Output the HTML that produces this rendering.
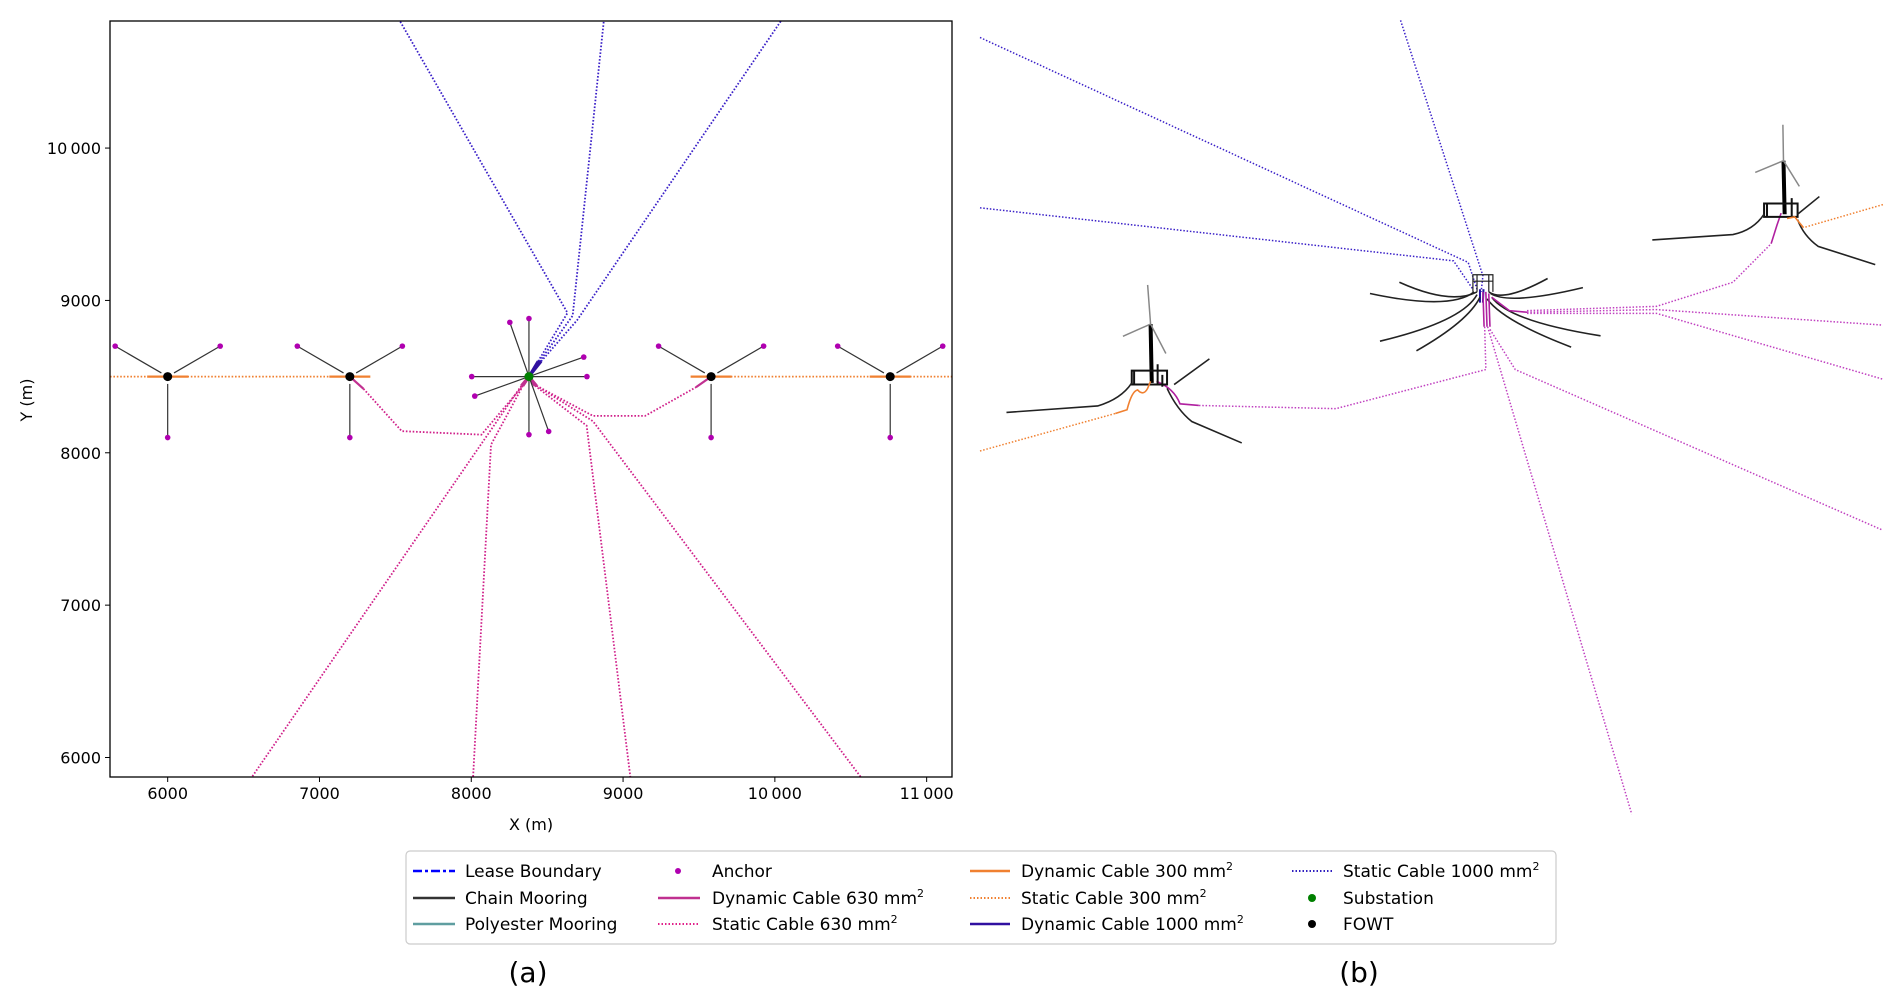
<!DOCTYPE html>
<html><head><meta charset="utf-8"><style>
body{margin:0;background:#fff;width:1892px;height:1004px;overflow:hidden;font-family:"Liberation Sans","DejaVu Sans",sans-serif}
svg{position:absolute;left:0;top:0}
text{font-family:"DejaVu Sans","Liberation Sans",sans-serif}
</style></head><body>
<svg id="s" width="1892" height="1004">
<g id="pa"></g>
<g id="pb" transform="translate(980,0) scale(0.5882,0.5356)"></g>
<g>
<rect x="406" y="851" width="1150" height="93" rx="4" fill="#fff" stroke="#ccc" stroke-width="1.2"/>
<g font-size="17" fill="#000">
<line x1="413" y1="871" x2="455" y2="871" stroke="#0000ff" stroke-width="2.5" stroke-dasharray="9,3,3,3"/><text x="465" y="877">Lease Boundary</text>
<line x1="413" y1="898" x2="455" y2="898" stroke="#333" stroke-width="2.5"/><text x="465" y="904">Chain Mooring</text>
<line x1="413" y1="924" x2="455" y2="924" stroke="#5f9ea0" stroke-width="2.5"/><text x="465" y="930">Polyester Mooring</text>
<circle cx="678" cy="871" r="3" fill="#b000b0"/><text x="712" y="877">Anchor</text>
<line x1="658" y1="898" x2="700" y2="898" stroke="#c03090" stroke-width="2.5"/><text x="712" y="904">Dynamic Cable 630 mm<tspan font-size="11" dy="-7">2</tspan></text>
<line x1="658" y1="924" x2="700" y2="924" stroke="#e0208a" stroke-width="2" stroke-dasharray="1.5,2"/><text x="712" y="930">Static Cable 630 mm<tspan font-size="11" dy="-7">2</tspan></text>
<line x1="970" y1="871" x2="1010" y2="871" stroke="#f08030" stroke-width="2.5"/><text x="1021" y="877">Dynamic Cable 300 mm<tspan font-size="11" dy="-7">2</tspan></text>
<line x1="970" y1="898" x2="1010" y2="898" stroke="#f08030" stroke-width="2" stroke-dasharray="1.5,2"/><text x="1021" y="904">Static Cable 300 mm<tspan font-size="11" dy="-7">2</tspan></text>
<line x1="970" y1="924" x2="1010" y2="924" stroke="#3010a0" stroke-width="2.5"/><text x="1021" y="930">Dynamic Cable 1000 mm<tspan font-size="11" dy="-7">2</tspan></text>
<line x1="1292" y1="871" x2="1332" y2="871" stroke="#3020c0" stroke-width="2" stroke-dasharray="1.5,2"/><text x="1343" y="877">Static Cable 1000 mm<tspan font-size="11" dy="-7">2</tspan></text>
<circle cx="1312" cy="898" r="4" fill="#008000"/><text x="1343" y="904">Substation</text>
<circle cx="1312" cy="924" r="4" fill="#000"/><text x="1343" y="930">FOWT</text>
</g></g>
<text x="528" y="982" font-size="28" text-anchor="middle">(a)</text>
<text x="1359" y="982" font-size="28" text-anchor="middle">(b)</text>
</svg>
<script>
const NS='http://www.w3.org/2000/svg';
// ---- panel (a) data (metres) ----
const xTicks=[6000,7000,8000,9000,10000,11000];
const yTicks=[6000,7000,8000,9000,10000];
const xTickLabels=['6000','7000','8000','9000','10\u2009000','11\u2009000'];
const yTickLabels=['6000','7000','8000','9000','10\u2009000'];
const fowtX=[6000,7200,9580,10760];
const fowtY=[8500,8500,8500,8500];
const fowtAnchorDX=[-346,346,0];
const fowtAnchorDY=[200,200,-400];
const substation=[8380,8500];
const subAnchors=[[8380,8881],[8254,8856],[8741,8628],[8762,8500],[8003,8500],[8023,8372],[8380,8119],[8510,8140]];
const static1000=[
 [[8440,8600],[8634,8918],[7530,10834]],
 [[8450,8600],[8668,8900],[8873,10834]],
 [[8460,8600],[8697,8870],[10040,10834]]];
const static630=[
 [[7290,8420],[7542,8142],[8067,8119],[8340,8440]],
 [[8430,8440],[8802,8242],[9145,8242],[9480,8430]],
 [[8330,8440],[6555,5872]],
 [[8340,8440],[8130,8053],[8012,5872]],
 [[8420,8440],[8760,8178],[9048,5872]],
 [[8430,8440],[8802,8207],[10566,5872]]];
const static300=[[5620,6130],[6130,7070],[9710,10630],[10890,11167]];
const xmin=5620,xmax=11167,ymin=5872,ymax=10834;
const L=110,R=952,T=21,B=777;
const sx=v=>L+(v-xmin)/(xmax-xmin)*(R-L);
const sy=v=>B-(v-ymin)/(ymax-ymin)*(B-T);
const pa=document.getElementById('pa');
function mk(tag,at,parent){const e=document.createElementNS(NS,tag);for(const k in at)e.setAttribute(k,at[k]);(parent||pa).appendChild(e);return e;}
const clip=mk('clipPath',{id:'cp'});mk('rect',{x:L,y:T,width:R-L,height:B-T},clip);
const g=mk('g',{'clip-path':'url(#cp)'});


const dot={'stroke-width':1.8,'stroke-dasharray':'1.6,1.8',fill:'none'};
function poly(pts,st,name){const e=mk('polyline',Object.assign({points:pts.map(p=>sx(p[0])+','+sy(p[1])).join(' ')},st),g);
 
 return e;}
static300.forEach(s=>poly([[s[0],8500],[s[1],8500]],Object.assign({stroke:'#f08030'},dot),'static-cable-300'));
fowtX.forEach((x,i)=>poly([[x-135,8500],[x+135,8500]],{stroke:'#f08030','stroke-width':2.2},'dynamic-cable-300'));
static1000.forEach(c=>{poly(c,Object.assign({stroke:'#3a20c8'},dot),'static-cable-1000');
 poly([substation,c[0]],{stroke:'#3010a0','stroke-width':3},'dynamic-cable-1000');});
static630.forEach(c=>poly(c,Object.assign({stroke:'#d0208a'},dot),'static-cable-630'));
poly([[7200,8500],[7290,8420]],{stroke:'#c03090','stroke-width':2.2},'dynamic-cable-630');
poly([[9480,8430],[9580,8500]],{stroke:'#c03090','stroke-width':2.2},'dynamic-cable-630');
[[8340,8440],[8330,8440],[8420,8440],[8430,8440]].forEach(p=>poly([substation,p],{stroke:'#c03090','stroke-width':3},'dynamic-cable-630'));
fowtX.forEach((x,i)=>{for(let k=0;k<3;k++){const ax=x+fowtAnchorDX[k],ay=fowtY[i]+fowtAnchorDY[k];
 poly([[ax,ay],[x+(ax-x)*0.12,fowtY[i]+(ay-fowtY[i])*0.12]],{stroke:'#333','stroke-width':1.2},'chain-mooring');
 const a=mk('circle',{cx:sx(ax),cy:sy(ay),r:2.8,fill:'#b000b0'},g);
 
 }});
subAnchors.forEach(p=>{poly([substation,p],{stroke:'#333','stroke-width':1.2},'chain-mooring');
 const a=mk('circle',{cx:sx(p[0]),cy:sy(p[1]),r:2.8,fill:'#b000b0'},g);
 
 });
fowtX.forEach((x,i)=>{const c=mk('circle',{cx:sx(x),cy:sy(fowtY[i]),r:4.5,fill:'#000'},g);
 
 });
const ss=mk('circle',{cx:sx(substation[0]),cy:sy(substation[1]),r:4.5,fill:'#008000'},g);


const fr=mk('rect',{x:L,y:T,width:R-L,height:B-T,fill:'none',stroke:'#000','stroke-width':1.3});


xTicks.forEach((v,i)=>{mk('line',{x1:sx(v),x2:sx(v),y1:B,y2:B+5,stroke:'#000'});
 const t=mk('text',{x:sx(v),y:B+22,'font-size':16,'text-anchor':'middle'});t.textContent=xTickLabels[i];
 
 });
yTicks.forEach((v,i)=>{mk('line',{x1:L-5,x2:L,y1:sy(v),y2:sy(v),stroke:'#000'});
 const t=mk('text',{x:L-9,y:sy(v)+6,'font-size':16,'text-anchor':'end'});t.textContent=yTickLabels[i];
 
 });
const xl=mk('text',{x:(L+R)/2,y:830,'font-size':16,'text-anchor':'middle'});xl.textContent='X (m)';


const yl=mk('text',{x:0,y:0,'font-size':16,'text-anchor':'middle',transform:'translate(32,400) rotate(-90)'});yl.textContent='Y (m)';


// ---- panel (b) 3D sketch (zoom coords) ----
const pb=document.getElementById('pb');
function pl(d,st,name){const e=mk('path',Object.assign({d:d,fill:'none','vector-effect':'non-scaling-stroke'},st),pb);
 
 }
const bd={stroke:'#3a20c8','stroke-width':1.5,'stroke-dasharray':'1.5,1.8'};
const md={stroke:'#c040c0','stroke-width':1.5,'stroke-dasharray':'1.5,1.8'};
const od={stroke:'#f08030','stroke-width':1.5,'stroke-dasharray':'1.5,1.8'};
const blk={stroke:'#222','stroke-width':1.6};
pl('M0,70 L830,490 L845,540',bd,'static-cable-1000');
pl('M0,388 L805,487 L838,540',bd,'static-cable-1000');
pl('M715,38 L855,515 L852,545',bd,'static-cable-1000');
pl('M850,540 L850,565 M856,540 L855,565',{stroke:'#2010a0','stroke-width':2},'dynamic-cable-1000');
['M663,548 Q800,580 840,545','M713,527 Q800,570 845,545','M680,637 Q820,600 845,550','M742,655 Q830,600 850,555','M965,520 Q890,565 865,545','M1025,537 Q900,570 868,548','M1055,627 Q900,600 870,555','M1005,648 Q890,600 862,558'].forEach(d=>pl(d,blk,'chain-mooring'));
pl('M838,545 L838,513 L872,513 L872,545 M838,525 L872,525 M845,513 L845,545 M865,513 L865,545',{stroke:'#222','stroke-width':1.2},'substation-structure');
pl('M855,545 L857,610 M860,545 L862,610 M865,548 L867,610 M870,555 L900,580 L930,583',{stroke:'#b020a0','stroke-width':1.6},'dynamic-cable-630');
pl('M930,580 L1150,572 L1280,527 L1345,455',md,'static-cable-630');
pl('M930,583 L1150,578 L1535,607',md,'static-cable-630');
pl('M930,585 L1150,585 L1535,708',md,'static-cable-630');
pl('M858,610 L860,690 L605,763 L372,757',md,'static-cable-630');
pl('M863,610 L1108,1520',md,'static-cable-630');
pl('M867,615 L910,690 L1535,990',md,'static-cable-630');
pl('M372,757 L340,754 Q330,725 300,712',{stroke:'#b020a0','stroke-width':1.6},'dynamic-cable-630');
pl('M1345,455 L1355,420 L1362,398',{stroke:'#b020a0','stroke-width':1.6},'dynamic-cable-630');
// left turbine
pl('M290,605 L292,715',{stroke:'#000','stroke-width':4},'turbine-tower');
pl('M285,532 L290,605 M243,628 L290,605 L316,660',{stroke:'#888','stroke-width':1.5},'turbine-blades');
pl('M258,692 L318,692 L318,718 L258,718 Z M262,692 L262,718 M302,680 L302,718 M310,700 L310,722',{stroke:'#111','stroke-width':2},'turbine-platform');
pl('M45,770 L200,758 Q240,745 258,715',blk,'chain-mooring');
pl('M390,670 L330,718',blk,'chain-mooring');
pl('M445,827 L360,787 Q335,765 318,725',blk,'chain-mooring');
pl('M0,842 L230,772',od,'static-cable-300');
pl('M230,772 L250,765 Q258,730 268,728 Q278,740 285,725 L290,712',{stroke:'#f08030','stroke-width':1.6},'dynamic-cable-300');
// right turbine
pl('M1366,300 L1368,400',{stroke:'#000','stroke-width':4},'turbine-tower');
pl('M1365,233 L1366,300 M1318,322 L1366,300 L1393,348',{stroke:'#888','stroke-width':1.5},'turbine-blades');
pl('M1333,380 L1390,380 L1390,405 L1333,405 Z M1338,380 L1338,405 M1380,370 L1380,405',{stroke:'#111','stroke-width':2},'turbine-platform');
pl('M1143,448 L1280,438 Q1315,430 1333,400',blk,'chain-mooring');
pl('M1427,367 L1390,400',blk,'chain-mooring');
pl('M1522,494 L1425,460 Q1400,440 1390,410',blk,'chain-mooring');
pl('M1535,382 L1400,425',od,'static-cable-300');
pl('M1400,425 L1385,405 L1372,408',{stroke:'#f08030','stroke-width':1.6},'dynamic-cable-300');
</script>
</body></html>
